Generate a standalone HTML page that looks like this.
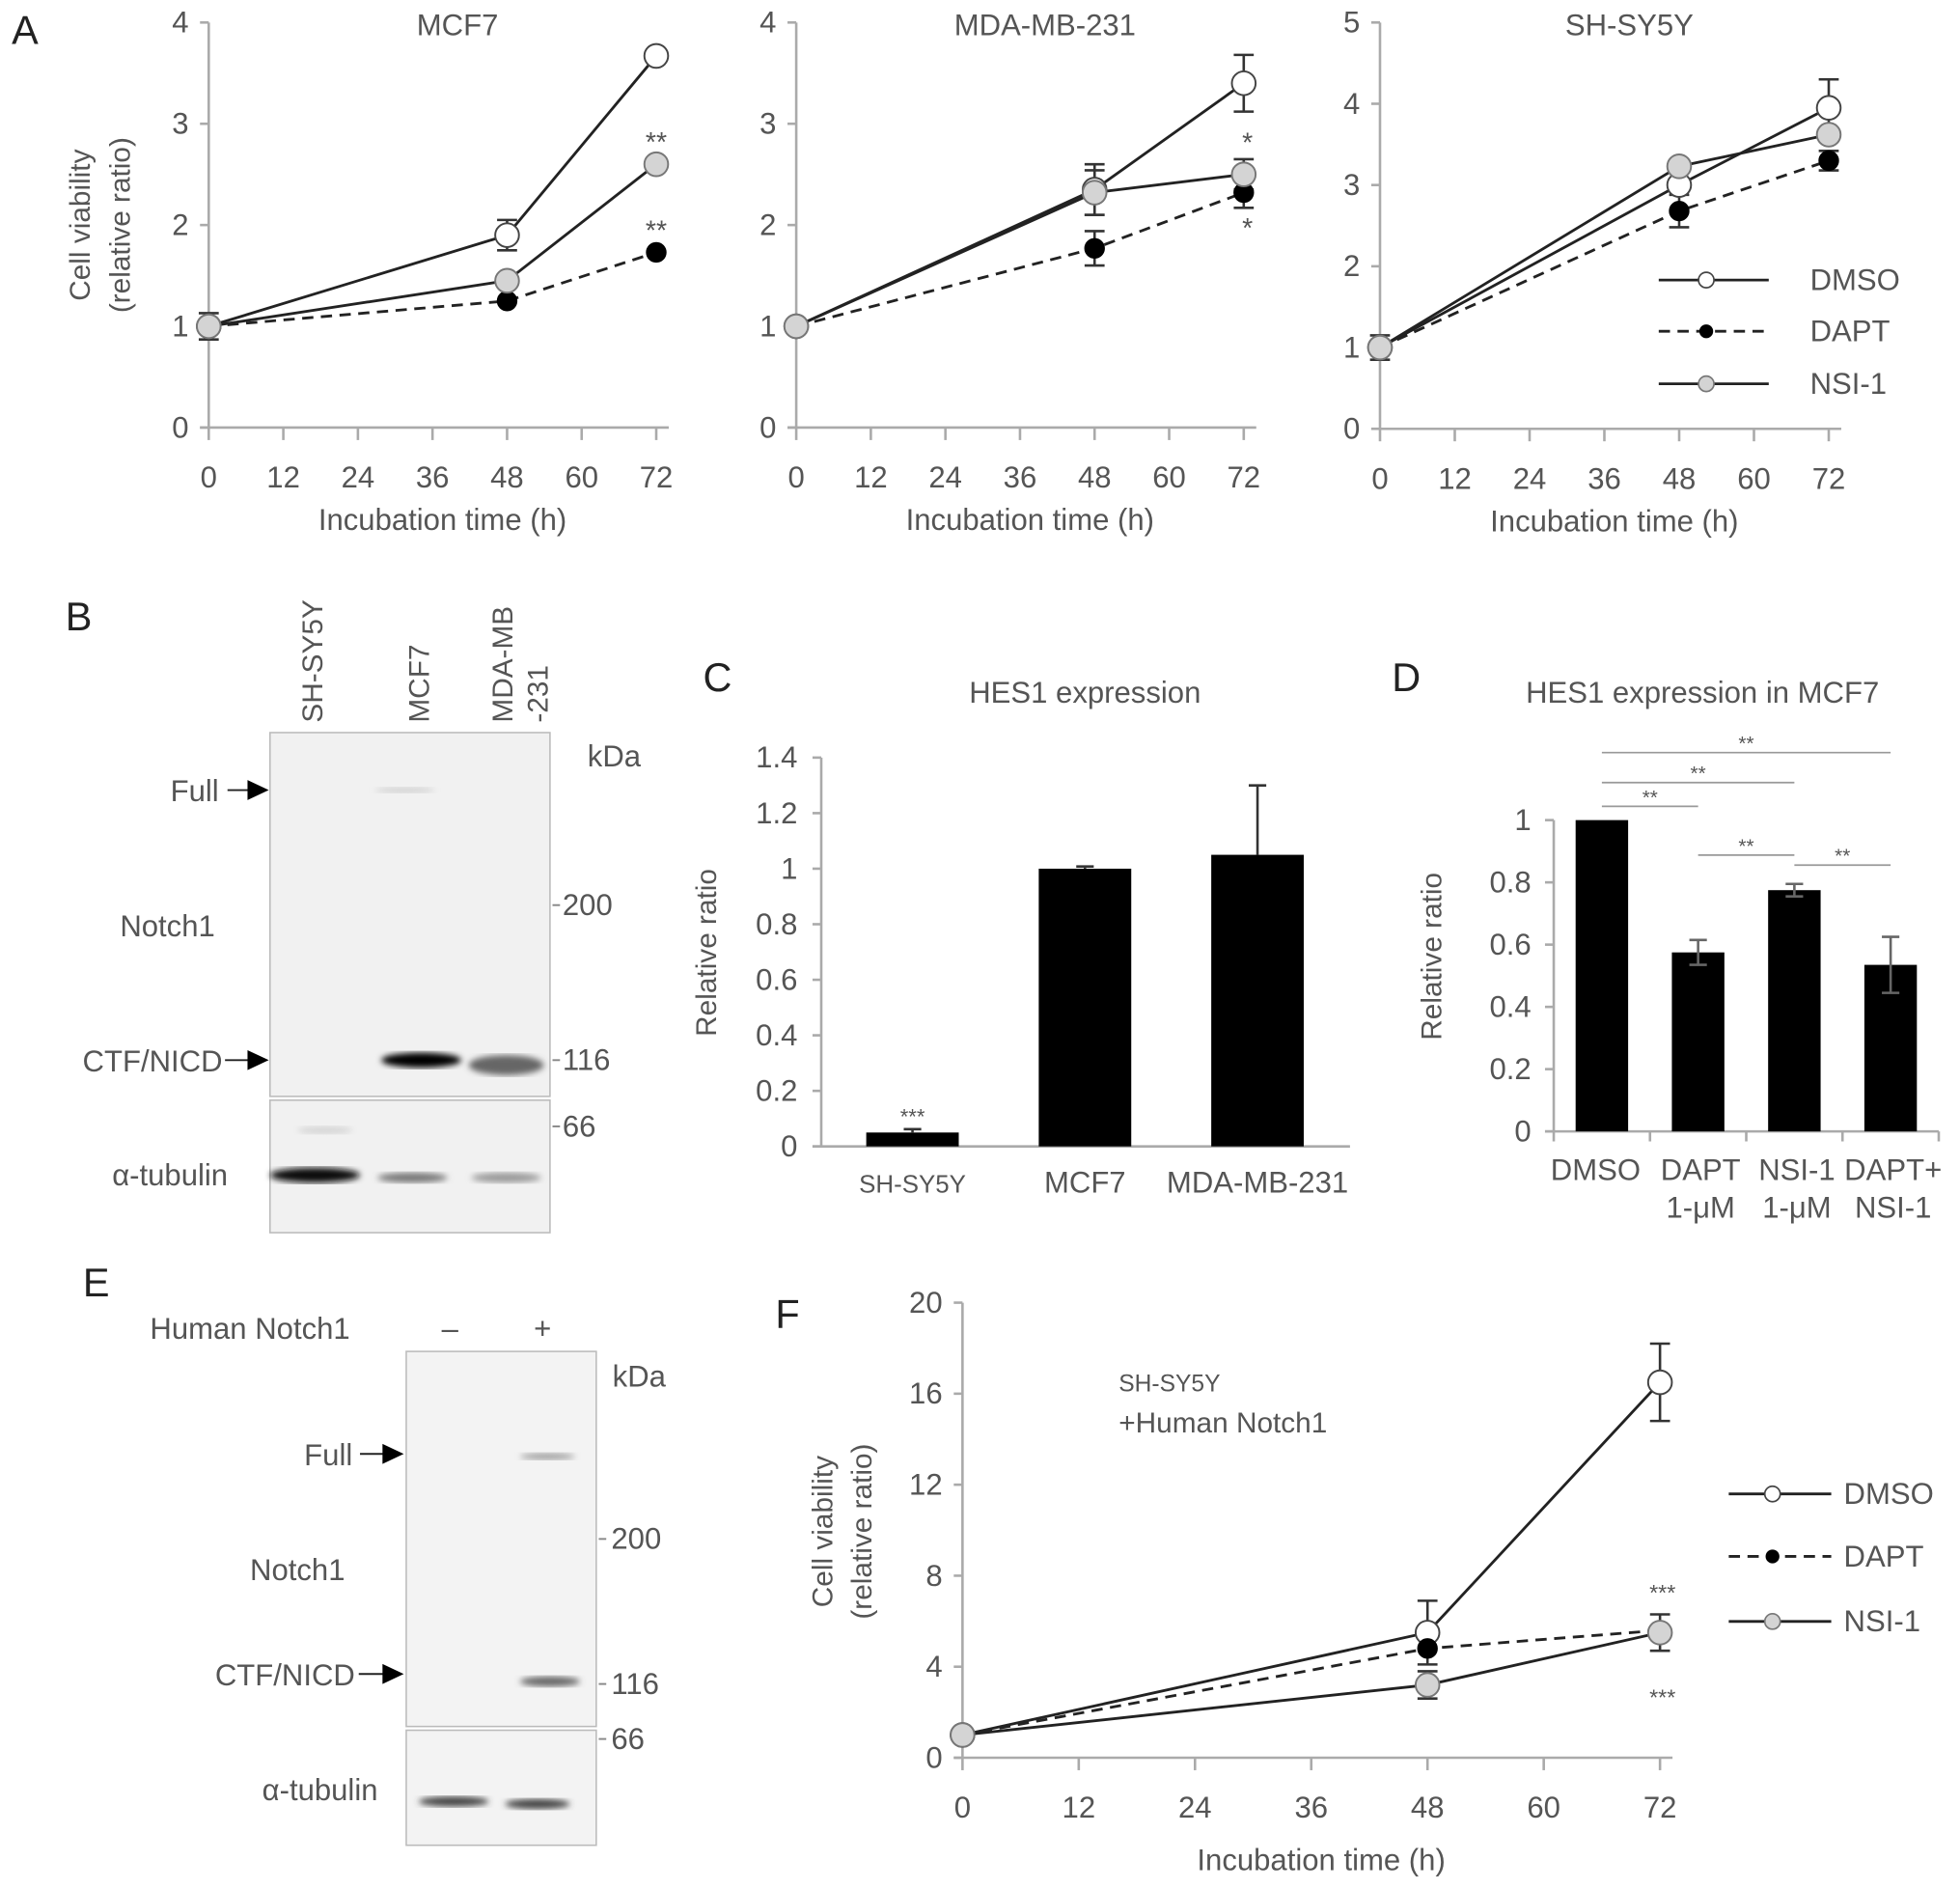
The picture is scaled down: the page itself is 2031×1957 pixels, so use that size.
<!DOCTYPE html>
<html><head><meta charset="utf-8"><title>Notch1 figure</title>
<style>
html,body{margin:0;padding:0;background:#fff;}
svg{display:block;font-family:"Liberation Sans",sans-serif;}
</style></head>
<body>
<svg id="fig" xmlns="http://www.w3.org/2000/svg" width="2031" height="1957" viewBox="0 0 1568 1511" preserveAspectRatio="none">
<defs>
<filter id="blur2"><feGaussianBlur stdDeviation="2.5"/></filter>
<filter id="blur4"><feGaussianBlur stdDeviation="5"/></filter>
</defs>
</svg>
<script>
// ---- data ----
const hoursTicks=[0,12,24,36,48,60,72];
const timesA=[0,48,72];
const mcf7Dmso=[1,1.9,3.67], mcf7DmsoErr=[0.13,0.15,0];
const mcf7Dapt=[1,1.25,1.73], mcf7DaptErr=[0,0,0];
const mcf7Nsi=[1,1.45,2.6], mcf7NsiErr=[0,0,0];
const mdaDmso=[1,2.35,3.4], mdaDmsoErr=[0,0.25,0.28];
const mdaDapt=[1,1.77,2.32], mdaDaptErr=[0,0.17,0.15];
const mdaNsi=[1,2.32,2.5], mdaNsiErr=[0,0.22,0.15];
const shDmso=[1,3.0,3.95], shDmsoErr=[0.15,0,0.35];
const shDapt=[1,2.68,3.3], shDaptErr=[0,0.2,0.12];
const shNsi=[1,3.23,3.62], shNsiErr=[0,0,0];
const fDmso=[1,5.5,16.5], fDmsoErr=[0,1.4,1.7];
const fDapt=[1,4.8,5.6], fDaptErr=[0,0,0];
const fNsi=[1,3.2,5.5], fNsiErr=[0,0.6,0.8];
const cCats=["SH-SY5Y","MCF7","MDA-MB-231"];
const cVals=[0.05,1.0,1.05];
const cErrs=[0.012,0.008,0.25];
const cTicks=[0,0.2,0.4,0.6,0.8,1,1.2,1.4];
const dCats=[["DMSO"],["DAPT","1-\u03bcM"],["NSI-1","1-\u03bcM"],["DAPT+","NSI-1"]];
const dVals=[1.0,0.575,0.775,0.535];
const dErrs=[0.003,0.04,0.02,0.09];
const dTicks=[0,0.2,0.4,0.6,0.8,1];

const NS="http://www.w3.org/2000/svg";
const svg=document.getElementById('fig');
function el(tag,attrs,parent,txt){const e=document.createElementNS(NS,tag);for(const k in attrs)e.setAttribute(k,attrs[k]);if(txt!==undefined)e.textContent=txt;(parent||svg).appendChild(e);return e;}
function grp(name){const g=el('g',{});


return g;}
function txt(g,x,y,s,opt){opt=opt||{};const t=el('text',{x:x,y:y,'font-size':opt.size||23,fill:opt.fill||'#555','text-anchor':opt.anchor||'middle'},g,s);if(opt.rot)t.setAttribute('transform','rotate('+opt.rot+' '+x+' '+y+')');


return t;}

// ---- line chart ----
function lineChart(name,cfg,series,yTicks,title,xtY){
  const g=grp(name);
  const sx=v=>cfg.xL+(cfg.xR-cfg.xL)*v/72;
  const sy=v=>cfg.yB-(cfg.yB-cfg.yT)*v/cfg.ymax;
  el('line',{x1:cfg.xL,y1:cfg.yT,x2:cfg.xL,y2:cfg.yB,stroke:'#aaa','stroke-width':2},g);
  el('line',{x1:cfg.xL-7,y1:cfg.yB,x2:cfg.xR+10,y2:cfg.yB,stroke:'#aaa','stroke-width':2},g);
  yTicks.forEach(v=>{el('line',{x1:cfg.xL-7,y1:sy(v),x2:cfg.xL,y2:sy(v),stroke:'#aaa','stroke-width':2},g);
    txt(g,cfg.xL-16,sy(v)+8,String(v),{anchor:'end',name:'y-tick-label',size:24});});
  hoursTicks.forEach(h=>{el('line',{x1:sx(h),y1:cfg.yB,x2:sx(h),y2:cfg.yB+10,stroke:'#aaa','stroke-width':2},g);
    txt(g,sx(h),cfg.yB+48,String(h),{name:'x-tick-label',size:24});});
  txt(g,(cfg.xL+cfg.xR)/2+8,cfg.yB+(xtY||82),'Incubation time (h)',{name:'x-axis-title',size:24});
  if(title)txt(g,(cfg.xL+cfg.xR)/2+20,cfg.yT+10,title,{name:'panel-title',size:24});
  series.forEach(s=>{const pts=timesA.map((t,i)=>sx(t)+','+sy(s.v[i])).join(' ');
    const pl=el('polyline',{points:pts,fill:'none',stroke:'#222','stroke-width':2.2,'stroke-dasharray':s.dash?'9,6':'none'},g);
    
    });
  series.forEach(s=>{timesA.forEach((t,i)=>{const e=s.e[i];if(e>0){const x=sx(t);
    el('line',{x1:x,y1:sy(s.v[i]+e),x2:x,y2:sy(s.v[i]-e),stroke:'#333','stroke-width':2},g);
    el('line',{x1:x-8,y1:sy(s.v[i]+e),x2:x+8,y2:sy(s.v[i]+e),stroke:'#333','stroke-width':2},g);
    el('line',{x1:x-8,y1:sy(s.v[i]-e),x2:x+8,y2:sy(s.v[i]-e),stroke:'#333','stroke-width':2},g);}});});
  series.forEach(s=>{timesA.forEach((t,i)=>{const c=el('circle',{cx:sx(t),cy:sy(s.v[i]),r:s.r,fill:s.fill,stroke:s.stroke,'stroke-width':1.5},g);
    
    });});
  return {g,sx,sy};
}
function ser(name,v,e,kind){
  if(kind==='dmso')return {name,v,e,fill:'#fff',stroke:'#444',r:9.5,dash:false};
  if(kind==='dapt')return {name,v,e,fill:'#000',stroke:'#000',r:7.5,dash:true};
  return {name,v,e,fill:'#d4d4d4',stroke:'#777',r:9.5,dash:false};
}
function legend(name,x1,x2,ys,tx){
  const g=grp(name);
  const kinds=['dmso','dapt','nsi'],labs=['DMSO','DAPT','NSI-1'];
  kinds.forEach((k,i)=>{const s=ser(labs[i],[0],[0],k);
    el('line',{x1:x1,y1:ys[i],x2:x2,y2:ys[i],stroke:'#222','stroke-width':2.2,'stroke-dasharray':s.dash?'9,6':'none'},g);
    el('circle',{cx:(x1+x2)/2-6,cy:ys[i],r:s.r*0.65,fill:s.fill,stroke:s.stroke,'stroke-width':1.3},g);
    txt(g,tx,ys[i]+8,labs[i],{anchor:'start',size:24,name:'legend-entry'});});
}

// Panel A
txt(svg,20,35,'A',{size:32,fill:'#222',anchor:'middle',name:'panel-letter'});
txt(svg,72,180,'Cell viability',{rot:-90,size:23,name:'y-axis-title'});
txt(svg,104,180,'(relative ratio)',{rot:-90,size:23,name:'y-axis-title'});
const a1=lineChart('mcf7-chart',{xL:167,xR:525,yB:342,yT:18,ymax:4},[ser('dmso',mcf7Dmso,mcf7DmsoErr,'dmso'),ser('dapt',mcf7Dapt,mcf7DaptErr,'dapt'),ser('nsi',mcf7Nsi,mcf7NsiErr,'nsi')],[0,1,2,3,4],'MCF7');
txt(a1.g,a1.sx(72),a1.sy(2.6)-10,'**',{size:22,name:'significance'});
txt(a1.g,a1.sx(72),a1.sy(1.73)-10,'**',{size:22,name:'significance'});
const a2=lineChart('mda-chart',{xL:637,xR:995,yB:342,yT:18,ymax:4},[ser('dmso',mdaDmso,mdaDmsoErr,'dmso'),ser('dapt',mdaDapt,mdaDaptErr,'dapt'),ser('nsi',mdaNsi,mdaNsiErr,'nsi')],[0,1,2,3,4],'MDA-MB-231');
txt(a2.g,a2.sx(72)+3,a2.sy(2.5)-18,'*',{size:22,name:'significance'});
txt(a2.g,a2.sx(72)+3,a2.sy(2.32)+36,'*',{size:22,name:'significance'});
lineChart('shsy5y-chart',{xL:1104,xR:1463,yB:343,yT:18,ymax:5},[ser('dmso',shDmso,shDmsoErr,'dmso'),ser('dapt',shDapt,shDaptErr,'dapt'),ser('nsi',shNsi,shNsiErr,'nsi')],[0,1,2,3,4,5],'SH-SY5Y');
legend('legend-a',1327,1415,[224,265,307],1448);

// Panel B blot
(function(){const g=grp('western-blot-b');
txt(g,63,504,'B',{size:32,fill:'#222',name:'panel-letter'});
txt(g,258,578,'SH-SY5Y',{rot:-90,anchor:'start',size:23,name:'lane-label'});
txt(g,343,578,'MCF7',{rot:-90,anchor:'start',size:23,name:'lane-label'});
txt(g,410,578,'MDA-MB',{rot:-90,anchor:'start',size:23,name:'lane-label'});
txt(g,438,578,'-231',{rot:-90,anchor:'start',size:23,name:'lane-label'});
el('rect',{x:216,y:586,width:224,height:291,fill:'#f1f1f1',stroke:'#bbb','stroke-width':1.2},g);
el('rect',{x:216,y:880,width:224,height:106,fill:'#f1f1f1',stroke:'#bbb','stroke-width':1.2},g);
el('ellipse',{cx:337,cy:848,rx:32,ry:6,fill:'#000',filter:'url(#blur2)'},g);
el('ellipse',{cx:405,cy:852,rx:30,ry:8,fill:'#666',filter:'url(#blur2)'},g);
el('ellipse',{cx:324,cy:632,rx:24,ry:2,fill:'#ccc',filter:'url(#blur2)'},g);
el('ellipse',{cx:252,cy:940,rx:36,ry:6,fill:'#111',filter:'url(#blur2)'},g);
el('ellipse',{cx:330,cy:942,rx:28,ry:4,fill:'#777',filter:'url(#blur2)'},g);
el('ellipse',{cx:405,cy:942,rx:28,ry:4,fill:'#999',filter:'url(#blur2)'},g);
el('ellipse',{cx:260,cy:904,rx:22,ry:3,fill:'#d4d4d4',filter:'url(#blur2)'},g);
txt(g,470,613,'kDa',{anchor:'start',name:'kda-label',size:24});
[['200',732],['116',856],['66',909]].forEach(m=>{el('line',{x1:442,y1:m[1]-8,x2:448,y2:m[1]-8,stroke:'#888','stroke-width':1.5},g);txt(g,450,m[1],m[0],{anchor:'start',name:'marker-label',size:24});});
txt(g,175,641,'Full',{anchor:'end',name:'band-label',size:24});
el('line',{x1:182,y1:632,x2:200,y2:632,stroke:'#222','stroke-width':1.5},g);el('polygon',{points:'198,624 215,632 198,640',fill:'#000'},g);
txt(g,134,749,'Notch1',{name:'protein-label',size:24});
txt(g,178,857,'CTF/NICD',{anchor:'end',name:'band-label',size:24});
el('line',{x1:180,y1:848,x2:200,y2:848,stroke:'#222','stroke-width':1.5},g);el('polygon',{points:'198,840 215,848 198,856',fill:'#000'},g);
txt(g,136,948,'\u03b1-tubulin',{name:'protein-label',size:24});
})();

// Panel C
(function(){const g=grp('hes1-chart-c');
const x0=661,step=138,yB=917,yT=606,ym=1.4;const sy=v=>yB-(yB-yT)*v/ym;
txt(g,574,553,'C',{size:32,fill:'#222',name:'panel-letter'});
txt(g,868,562,'HES1 expression',{size:24,name:'chart-title'});
txt(g,573,762,'Relative ratio',{rot:-90,size:23,name:'y-axis-title'});
el('line',{x1:657,y1:yT,x2:657,y2:yB,stroke:'#aaa','stroke-width':2},g);
el('line',{x1:650,y1:yB,x2:1080,y2:yB,stroke:'#aaa','stroke-width':2},g);
cTicks.forEach(v=>{el('line',{x1:650,y1:sy(v),x2:657,y2:sy(v),stroke:'#aaa','stroke-width':2},g);txt(g,638,sy(v)+8,String(v),{anchor:'end',name:'y-tick-label',size:24});});
cCats.forEach((c,i)=>{const cx=x0+(i+0.5)*step;const b=el('rect',{x:cx-37,y:sy(cVals[i]),width:74,height:yB-sy(cVals[i]),fill:'#000'},g);


const t=sy(cVals[i]+cErrs[i]);el('line',{x1:cx,y1:sy(cVals[i]),x2:cx,y2:t,stroke:'#333','stroke-width':2},g);el('line',{x1:cx-7,y1:t,x2:cx+7,y2:t,stroke:'#333','stroke-width':2},g);
txt(g,cx,954,c,{size:i===0?20:24,name:'x-tick-label'});});
txt(g,x0+0.5*step,sy(cVals[0]+cErrs[0])-4,'***',{size:17,name:'significance'});
})();

// Panel D
(function(){const g=grp('hes1-mcf7-chart-d');
const x0=1243,step=77,yB=905,yT=656,ym=1;const sy=v=>yB-(yB-yT)*v/ym;
txt(g,1125,553,'D',{size:32,fill:'#222',name:'panel-letter'});
txt(g,1362,562,'HES1 expression in MCF7',{size:24,name:'chart-title'});
txt(g,1153,765,'Relative ratio',{rot:-90,size:23,name:'y-axis-title'});
el('line',{x1:x0,y1:yT,x2:x0,y2:yB,stroke:'#aaa','stroke-width':2},g);
el('line',{x1:x0-7,y1:yB,x2:x0+4*step,y2:yB,stroke:'#aaa','stroke-width':2},g);
for(let i=0;i<=4;i++)el('line',{x1:x0+i*step,y1:yB,x2:x0+i*step,y2:yB+8,stroke:'#aaa','stroke-width':2},g);
dTicks.forEach(v=>{el('line',{x1:x0-7,y1:sy(v),x2:x0,y2:sy(v),stroke:'#aaa','stroke-width':2},g);txt(g,x0-18,sy(v)+8,String(v),{anchor:'end',name:'y-tick-label',size:24});});
dCats.forEach((c,i)=>{const cx=x0+(i+0.5)*step;const b=el('rect',{x:cx-21,y:sy(dVals[i]),width:42,height:yB-sy(dVals[i]),fill:'#000'},g);


if(dErrs[i]>0.005){const t=sy(dVals[i]+dErrs[i]),bt=sy(dVals[i]-dErrs[i]);el('line',{x1:cx,y1:t,x2:cx,y2:bt,stroke:'#666','stroke-width':2},g);el('line',{x1:cx-7,y1:t,x2:cx+7,y2:t,stroke:'#666','stroke-width':2},g);el('line',{x1:cx-7,y1:bt,x2:cx+7,y2:bt,stroke:'#666','stroke-width':2},g);}
c.forEach((l,j)=>txt(g,cx+(i===0?-5:2),944+j*30,l,{size:24,name:'x-tick-label'}));});
[[0,3,598],[0,2,622],[0,1,641],[1,2,680],[2,3,688]].forEach(s=>{const xa=x0+(s[0]+0.5)*step,xb=x0+(s[1]+0.5)*step;
el('line',{x1:xa,y1:s[2]+4,x2:xb,y2:s[2]+4,stroke:'#999','stroke-width':1.3},g);txt(g,(xa+xb)/2,s[2]+2,'**',{size:16,name:'significance'});});
})();

// Panel E blot
(function(){const g=grp('western-blot-e');
txt(g,77,1037,'E',{size:32,fill:'#222',name:'panel-letter'});
txt(g,200,1071,'Human Notch1',{name:'condition-label',size:24});
txt(g,360,1071,'\u2013',{name:'condition-minus',size:24});
txt(g,434,1071,'+',{name:'condition-plus',size:24});
el('rect',{x:325,y:1081,width:152,height:300,fill:'#f3f3f3',stroke:'#bbb','stroke-width':1.2},g);
el('rect',{x:325,y:1384,width:152,height:92,fill:'#f3f3f3',stroke:'#bbb','stroke-width':1.2},g);
el('ellipse',{cx:438,cy:1165,rx:22,ry:2.5,fill:'#999',filter:'url(#blur2)'},g);
el('ellipse',{cx:440,cy:1345,rx:24,ry:4,fill:'#666',filter:'url(#blur2)'},g);
el('ellipse',{cx:363,cy:1441,rx:28,ry:4,fill:'#444',filter:'url(#blur2)'},g);
el('ellipse',{cx:430,cy:1443,rx:26,ry:4,fill:'#444',filter:'url(#blur2)'},g);
txt(g,490,1109,'kDa',{anchor:'start',name:'kda-label',size:24});
[['200',1239],['116',1355],['66',1399]].forEach(m=>{el('line',{x1:479,y1:m[1]-8,x2:485,y2:m[1]-8,stroke:'#888','stroke-width':1.5},g);txt(g,489,m[1],m[0],{anchor:'start',name:'marker-label',size:24});});
txt(g,282,1172,'Full',{anchor:'end',name:'band-label',size:24});
el('line',{x1:288,y1:1163,x2:308,y2:1163,stroke:'#222','stroke-width':1.5},g);el('polygon',{points:'306,1155 323,1163 306,1171',fill:'#000'},g);
txt(g,238,1264,'Notch1',{name:'protein-label',size:24});
txt(g,284,1348,'CTF/NICD',{anchor:'end',name:'band-label',size:24});
el('line',{x1:287,y1:1339,x2:308,y2:1339,stroke:'#222','stroke-width':1.5},g);el('polygon',{points:'306,1331 323,1339 306,1347',fill:'#000'},g);
txt(g,256,1440,'\u03b1-tubulin',{name:'protein-label',size:24});
})();

// Panel F
txt(svg,630,1062,'F',{size:32,fill:'#222',name:'panel-letter'});
txt(svg,666,1225,'Cell viability',{rot:-90,size:23,name:'y-axis-title'});
txt(svg,697,1225,'(relative ratio)',{rot:-90,size:23,name:'y-axis-title'});
const f=lineChart('notch1-viability-chart',{xL:770,xR:1328,yB:1406,yT:1042,ymax:20},[ser('dmso',fDmso,fDmsoErr,'dmso'),ser('dapt',fDapt,fDaptErr,'dapt'),ser('nsi',fNsi,fNsiErr,'nsi')],[0,4,8,12,16,20],null,90);
txt(f.g,f.sx(72)+2,f.sy(5.6)-24,'***',{size:18,name:'significance'});
txt(f.g,f.sx(72)+2,f.sy(5.5)+58,'***',{size:18,name:'significance'});
txt(f.g,895,1113,'SH-SY5Y',{anchor:'start',size:19,name:'chart-note'});
txt(f.g,895,1146,'+Human Notch1',{anchor:'start',size:23,name:'chart-note'});
legend('legend-f',1383,1465,[1195,1245,1297],1475);
</script>
</body></html>
